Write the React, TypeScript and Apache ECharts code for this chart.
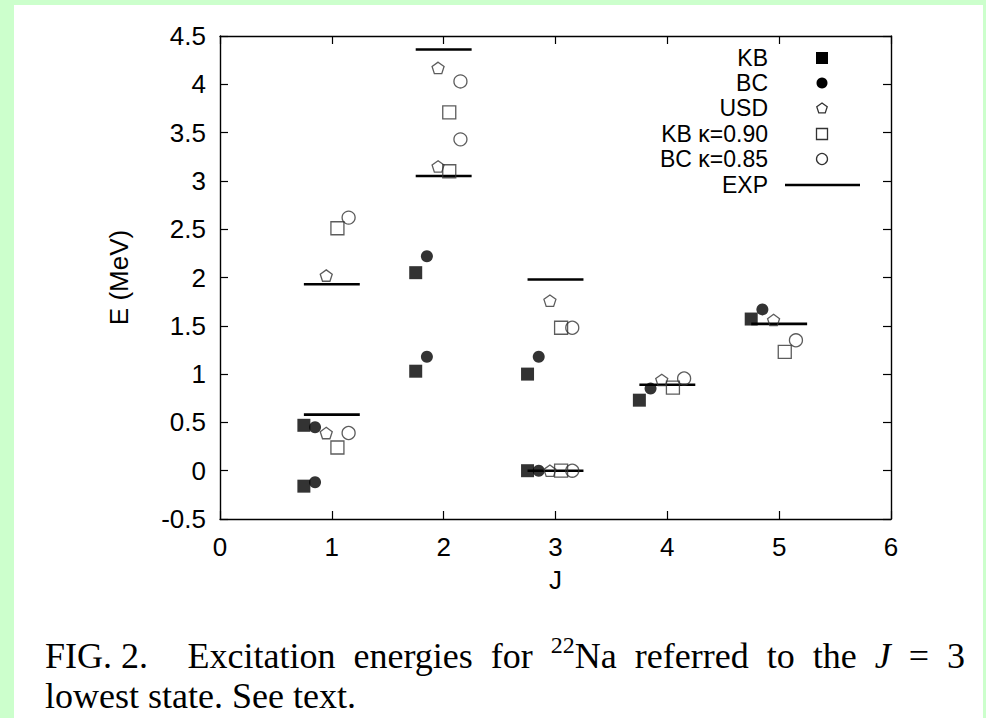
import React, { useEffect, useRef } from "react";
import * as echarts from "echarts";

// Angular momentum values on the x axis
const J_LEVELS = [1, 2, 3, 4, 5];
const J_MIN = 0;
const J_MAX = 6;
const J_STEP = 1;

// Energy axis (MeV)
const E_MIN = -0.5;
const E_MAX = 4.5;
const E_STEP = 0.5;

// Excitation energies (MeV) for each J level, one list per level
const KB = [[0.47, -0.16], [2.05, 1.03], [1.0, 0.0], [0.73], [1.57]];
const BC = [[0.45, -0.12], [2.22, 1.18], [1.18, 0.0], [0.85], [1.67]];
const USD = [[2.02, 0.39], [4.17, 3.15], [1.76, 0.0], [0.94], [1.56]];
const KB_K090 = [[2.51, 0.24], [3.71, 3.1], [1.48, 0.0], [0.86], [1.23]];
const BC_K085 = [[2.62, 0.39], [4.03, 3.43], [1.48, 0.0], [0.955], [1.35]];
const EXP = [[1.93, 0.58], [4.36, 3.05], [1.98, 0.0], [0.89], [1.52]];

const SERIES_NAMES = ["KB", "BC", "USD", "KB \u03ba=0.90", "BC \u03ba=0.85", "EXP"];

const CAPTION_LINE_2 = "lowest state. See text.";

const SANS = '"Liberation Sans", Arial, Helvetica, sans-serif';
const SERIF = '"Liberation Serif", "Times New Roman", serif';
const PENTAGON = "path://M0,-10L9.511,-3.09L5.878,8.09L-5.878,8.09L-9.511,-3.09Z";

// Each model is drawn slightly to the side of its J value
function spread(values: number[][], dx: number) {
  const out: number[][] = [];
  values.forEach((list, i) => list.forEach((v) => out.push([J_LEVELS[i] + dx, v])));
  return out;
}

function pentagonPoints(cx: number, cy: number, r: number) {
  const pts: number[][] = [];
  for (let k = 0; k < 5; k++) {
    const a = -Math.PI / 2 + (k * 2 * Math.PI) / 5;
    pts.push([cx + r * Math.cos(a), cy + r * Math.sin(a)]);
  }
  return pts;
}

function buildLegend() {
  const textX = 768;
  const markX = 822;
  const rows = [58, 83, 108, 134, 159, 185];
  const els: any[] = [];
  SERIES_NAMES.forEach((name, i) => {
    els.push({
      type: "text",
      x: textX,
      y: rows[i],
      style: {
        text: name,
        fill: "#000",
        font: `23px ${SANS}`,
        lineHeight: 22,
        textAlign: "right",
        textVerticalAlign: "middle",
        align: "right",
        verticalAlign: "middle",
      },
    });
  });
  const openStyle = { fill: "none", stroke: "#333", lineWidth: 1.3 };
  els.push({ type: "rect", shape: { x: markX - 6, y: rows[0] - 6, width: 12, height: 12 }, style: { fill: "#000" } });
  els.push({ type: "circle", shape: { cx: markX, cy: rows[1], r: 5.5 }, style: { fill: "#000" } });
  els.push({ type: "polygon", shape: { points: pentagonPoints(markX, rows[2] + 0.5, 5.5) }, style: openStyle });
  els.push({ type: "rect", shape: { x: markX - 5.5, y: rows[3] - 5.5, width: 11, height: 11 }, style: openStyle });
  els.push({ type: "circle", shape: { cx: markX, cy: rows[4], r: 5.5 }, style: openStyle });
  els.push({ type: "line", shape: { x1: 785, y1: rows[5], x2: 860, y2: rows[5] }, style: { stroke: "#000", lineWidth: 2.5 } });
  return els;
}

type Piece = { text: string; italic?: boolean; sup?: string };

function buildCaption() {
  const size = 36;
  const supSize = 24;
  const canvas = document.createElement("canvas");
  const ctx = canvas.getContext("2d") as CanvasRenderingContext2D;
  const measure = (t: string, s: number, italic = false) => {
    ctx.font = `${italic ? "italic " : ""}${s}px ${SERIF}`;
    return ctx.measureText(t).width;
  };
  const space = measure(" ", size);
  const words: Piece[] = [
    { text: "FIG. 2." },
    { text: "Excitation" },
    { text: "energies" },
    { text: "for" },
    { text: "Na", sup: "22" },
    { text: "referred" },
    { text: "to" },
    { text: "the" },
    { text: "J", italic: true },
    { text: "=" },
    { text: "3" },
  ];
  // the gap after the figure number is wider than the others
  const gapWeights = words.map((_, i) => (i === 0 ? 2.2 : 1)).slice(0, words.length - 1);
  const widths = words.map((w) => measure(w.text, size, w.italic) + (w.sup ? measure(w.sup, supSize) : 0));
  const left = 45;
  const right = 965;
  const total = widths.reduce((a, b) => a + b, 0);
  const unit = Math.max(space, (right - left - total) / gapWeights.reduce((a, b) => a + b, 0));
  const line1Y = 656;
  const line2Y = 696;
  const els: any[] = [];
  let x = left;
  words.forEach((w, i) => {
    let cx = x;
    if (w.sup) {
      els.push({
        type: "text",
        x: cx,
        y: line1Y - 11,
        style: { text: w.sup, fill: "#000", font: `${supSize}px ${SERIF}`, textVerticalAlign: "middle", verticalAlign: "middle" },
      });
      cx += measure(w.sup, supSize);
    }
    els.push({
      type: "text",
      x: cx,
      y: line1Y,
      style: {
        text: w.text,
        fill: "#000",
        font: `${w.italic ? "italic " : ""}${size}px ${SERIF}`,
        textVerticalAlign: "middle",
        verticalAlign: "middle",
      },
    });
    x += widths[i] + (i < gapWeights.length ? gapWeights[i] * unit : 0);
  });
  els.push({
    type: "text",
    x: left,
    y: line2Y,
    style: { text: CAPTION_LINE_2, fill: "#000", font: `${size}px ${SERIF}`, textVerticalAlign: "middle", verticalAlign: "middle" },
  });
  return els;
}

export default function App() {
  const ref = useRef<HTMLDivElement>(null);

  useEffect(() => {
    if (!ref.current) return;
    const chart = echarts.init(ref.current, null, { renderer: "svg", width: 986, height: 718 });

    const axisLine = { show: true, onZero: false, lineStyle: { color: "#000", width: 1.4 } };
    const axisTick = { show: true, inside: true, length: 8, lineStyle: { color: "#000", width: 1.2 } };
    const labelStyle = { color: "#000", fontSize: 26, fontFamily: SANS };

    const filled = (color: string) => ({ color, borderWidth: 0 });
    const open = { color: "rgba(0,0,0,0)", borderColor: "#333", borderWidth: 1.3 };

    const option: any = {
      animation: false,
      backgroundColor: "transparent",
      grid: { left: 220, top: 36, width: 671, height: 483, containLabel: false },
      xAxis: [
        {
          type: "value",
          min: J_MIN,
          max: J_MAX,
          interval: J_STEP,
          position: "bottom",
          axisLine,
          axisTick,
          splitLine: { show: false },
          axisLabel: { ...labelStyle, margin: 15 },
          name: "J",
          nameLocation: "middle",
          nameGap: 48,
          nameTextStyle: { ...labelStyle },
        },
        {
          type: "value",
          min: J_MIN,
          max: J_MAX,
          interval: J_STEP,
          position: "top",
          axisLine,
          axisTick,
          splitLine: { show: false },
          axisLabel: { show: false },
        },
      ],
      yAxis: [
        {
          type: "value",
          min: E_MIN,
          max: E_MAX,
          interval: E_STEP,
          position: "left",
          axisLine,
          axisTick,
          splitLine: { show: false },
          axisLabel: { ...labelStyle, margin: 14 },
          name: "E (MeV)",
          nameLocation: "middle",
          nameRotate: 90,
          nameGap: 88,
          nameTextStyle: { ...labelStyle },
        },
        {
          type: "value",
          min: E_MIN,
          max: E_MAX,
          interval: E_STEP,
          position: "right",
          axisLine,
          axisTick,
          splitLine: { show: false },
          axisLabel: { show: false },
        },
      ],
      series: [
        {
          name: SERIES_NAMES[0],
          type: "scatter",
          data: spread(KB, -0.25),
          symbol: "rect",
          symbolSize: 13,
          itemStyle: filled("#000"),
          silent: true,
        },
        {
          name: SERIES_NAMES[1],
          type: "scatter",
          data: spread(BC, -0.15),
          symbol: "circle",
          symbolSize: 12,
          itemStyle: filled("#000"),
          silent: true,
        },
        {
          name: SERIES_NAMES[2],
          type: "scatter",
          data: spread(USD, -0.05),
          symbol: PENTAGON,
          symbolKeepAspect: true,
          symbolSize: 12,
          itemStyle: open,
          silent: true,
        },
        {
          name: SERIES_NAMES[3],
          type: "scatter",
          data: spread(KB_K090, 0.05),
          symbol: "rect",
          symbolSize: 13,
          itemStyle: open,
          silent: true,
        },
        {
          name: SERIES_NAMES[4],
          type: "scatter",
          data: spread(BC_K085, 0.15),
          symbol: "circle",
          symbolSize: 13,
          itemStyle: open,
          silent: true,
        },
        {
          name: SERIES_NAMES[5],
          type: "custom",
          data: spread(EXP, 0),
          silent: true,
          renderItem: (_params: any, api: any) => {
            const j = api.value(0);
            const e = api.value(1);
            const a = api.coord([j - 0.25, e]);
            const b = api.coord([j + 0.25, e]);
            return {
              type: "line",
              shape: { x1: a[0], y1: a[1], x2: b[0], y2: b[1] },
              style: { stroke: "#000", lineWidth: 2.6 },
            };
          },
        },
      ],
      graphic: [...buildLegend(), ...buildCaption()],
    };

    chart.setOption(option);
    return () => chart.dispose();
  }, []);

  return (
    <div style={{ position: "fixed", left: 0, top: 0, width: 986, height: 718, background: "#ccffcc" }}>
      <div style={{ position: "absolute", left: 14, top: 5, width: 969, height: 713, background: "#ffffff" }} />
      <div ref={ref} style={{ position: "absolute", left: 0, top: 0, width: 986, height: 718 }} />
    </div>
  );
}
